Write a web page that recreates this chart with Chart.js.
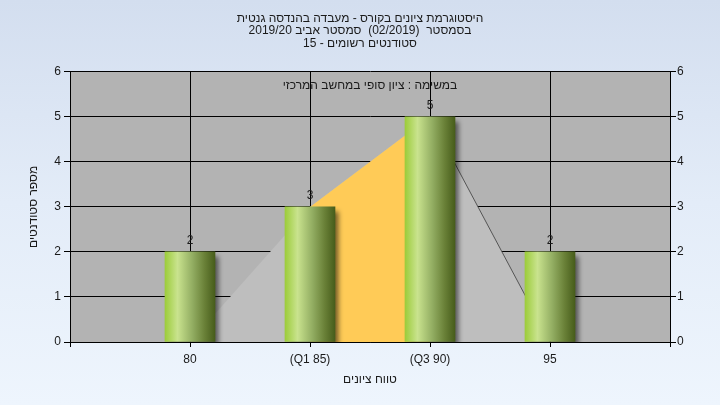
<!DOCTYPE html>
<html lang="he">
<head>
<meta charset="utf-8">
<script src="https://cdn.jsdelivr.net/npm/chart.js@4/dist/chart.umd.min.js"></script>
<style>
  html, body { margin: 0; padding: 0; }
  body {
    width: 720px; height: 405px; overflow: hidden;
    background: linear-gradient(to bottom, #d3deef 0%, #e3ecf8 50%, #eef5fd 100%);
  }
  #wrap { width: 720px; height: 405px; }
</style>
</head>
<body>
<div id="wrap"><canvas id="chart" dir="rtl" width="720" height="405"></canvas></div>
<script>
// Histogram data
const xValues    = [80, 85, 90, 95];
const xLabels    = ['80', '(Q1 85)', '(Q3 90)', '95'];
const counts     = [2, 3, 5, 2];

// background polygon (whole range) and the Q1..Q3 band
const curveX     = [80, 85, 90, 95];
const curveY     = [0, 3, 5, 0];
const bandX      = [85, 90];
const bandY      = [3, 5];
const edgeX      = [90, 95];
const edgeY      = [5, 0];

const titleLines = [
  'היסטוגרמת ציונים בקורס - מעבדה בהנדסה גנטית',
  'בסמסטר  (02/2019)  סמסטר אביב 2019/20',
  'סטודנטים רשומים - 15'
];
const innerLabel = 'במשימה : ציון סופי במחשב המרכזי';
const xTitle     = 'טווח ציונים';
const yTitle     = 'מספר סטודנטים';

const FONT = "'Liberation Sans', Arial, sans-serif";
const TXT  = '#1a1a1a';

const toXY = (xs, ys) => xs.map((x, i) => ({ x, y: ys[i] }));

// gradient per bar, built from the x scale
function barFill(ctx) {
  const chart = ctx.chart;
  const xs = chart.scales && chart.scales.x;
  if (!xs || ctx.type !== 'data') return '#9acb3c';
  const cx = xs.getPixelForValue(xValues[ctx.dataIndex]);
  if (!isFinite(cx)) return '#9acb3c';
  const g = chart.ctx.createLinearGradient(cx - 25, 0, cx + 25, 0);
  g.addColorStop(0.00, '#9ccc3a');
  g.addColorStop(0.25, '#c9e38e');
  g.addColorStop(0.55, '#92ad62');
  g.addColorStop(0.80, '#687f36');
  g.addColorStop(1.00, '#475d1b');
  return g;
}

const plotBg = {
  id: 'plotBg',
  beforeDraw(chart) {
    const { ctx, chartArea: a } = chart;
    ctx.save();
    ctx.fillStyle = '#b3b3b3';
    ctx.fillRect(a.left, a.top, a.right - a.left, a.bottom - a.top);
    ctx.restore();
  }
};

const barShadow = {
  id: 'barShadow',
  beforeDatasetDraw(chart, args) {
    if (args.index !== 0) return;
    const ctx = chart.ctx;
    ctx.save();
    ctx.shadowColor = 'rgba(0,0,0,0.55)';
    ctx.shadowBlur = 5;
    ctx.shadowOffsetX = 4;
    ctx.shadowOffsetY = 4;
  },
  afterDatasetDraw(chart, args) {
    if (args.index !== 0) return;
    chart.ctx.restore();
  }
};

const labels = {
  id: 'labels',
  afterDatasetsDraw(chart) {
    const { ctx, chartArea: a } = chart;
    ctx.save();
    ctx.font = '12px ' + FONT;
    ctx.fillStyle = TXT;
    ctx.textAlign = 'center';
    ctx.textBaseline = 'middle';
    chart.getDatasetMeta(0).data.forEach((bar, i) => {
      ctx.fillText(String(counts[i]), bar.x, bar.y - 11);
    });
    ctx.fillText(innerLabel, (a.left + a.right) / 2, a.top + 14);
    ctx.restore();
  }
};

new Chart(document.getElementById('chart'), {
  type: 'bar',
  data: {
    datasets: [
      {
        type: 'bar',
        data: toXY(xValues, counts),
        backgroundColor: barFill,
        borderWidth: 0,
        barThickness: 50,
        order: 0
      },
      {
        type: 'line',
        data: toXY(edgeX, edgeY),
        borderColor: '#555555',
        borderWidth: 1,
        pointRadius: 0,
        fill: false,
        order: 1
      },
      {
        type: 'line',
        data: toXY(bandX, bandY),
        borderWidth: 0,
        borderColor: 'rgba(0,0,0,0)',
        backgroundColor: '#ffcb57',
        pointRadius: 0,
        fill: 'origin',
        order: 2
      },
      {
        type: 'line',
        data: toXY(curveX, curveY),
        borderWidth: 0,
        borderColor: 'rgba(0,0,0,0)',
        backgroundColor: '#bebebe',
        pointRadius: 0,
        fill: 'origin',
        order: 3
      }
    ]
  },
  options: {
    responsive: false,
    animation: false,
    layout: { padding: 0 },
    plugins: {
      legend: { display: false },
      tooltip: { enabled: false },
      title: {
        display: true,
        text: titleLines,
        color: TXT,
        font: { family: FONT, size: 12, weight: 'normal', lineHeight: 1.05 },
        padding: { top: 12, bottom: 22 }
      }
    },
    scales: {
      x: {
        type: 'linear',
        min: 75,
        max: 100,
        offset: false,
        afterFit(scale) { scale.height = 63; },
        ticks: {
          stepSize: 5,
          color: TXT,
          font: { family: FONT, size: 12 },
          padding: 5,
          maxRotation: 0,
          callback: v => {
            const i = xValues.indexOf(v);
            return i >= 0 ? xLabels[i] : '';
          }
        },
        grid: { color: '#000', tickLength: 5, lineWidth: 1, offset: false },
        border: { color: '#000' },
        title: {
          display: true,
          text: xTitle,
          color: TXT,
          font: { family: FONT, size: 12 },
          padding: { top: 0, bottom: 18 }
        }
      },
      y: {
        position: 'left',
        min: 0,
        max: 6,
        afterFit(scale) { scale.width = 70; },
        ticks: {
          stepSize: 1,
          color: TXT,
          font: { family: FONT, size: 12 },
          padding: 3
        },
        grid: { color: '#000', tickLength: 6, lineWidth: 1 },
        border: { color: '#000' },
        title: {
          display: true,
          text: yTitle,
          color: TXT,
          font: { family: FONT, size: 12 },
          padding: { top: 26, bottom: 0 }
        }
      },
      y2: {
        position: 'right',
        min: 0,
        max: 6,
        afterFit(scale) { scale.width = 50; },
        ticks: {
          stepSize: 1,
          color: TXT,
          font: { family: FONT, size: 12 },
          padding: 1
        },
        grid: { drawOnChartArea: false, color: '#000', tickLength: 6 },
        border: { color: '#000' }
      }
    }
  },
  plugins: [plotBg, barShadow, labels]
});
</script>
</body>
</html>
